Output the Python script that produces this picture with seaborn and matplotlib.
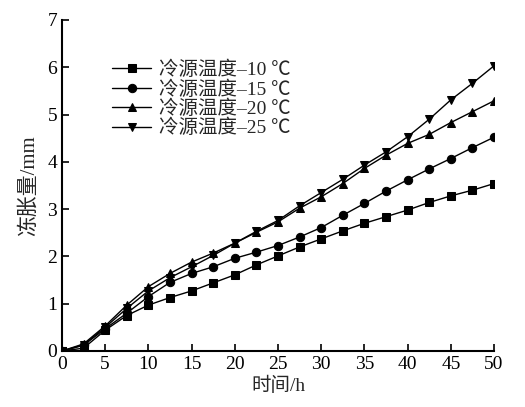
import numpy as np
import pandas as pd
import seaborn as sns
import matplotlib
matplotlib.use('Agg')
import matplotlib.pyplot as plt

# Datos (冻胀量 vs 时间)
horas = [0, 2.5, 5, 7.5, 10, 12.5, 15, 17.5, 20, 22.5, 25, 27.5, 30, 32.5, 35,
         37.5, 40, 42.5, 45, 47.5, 50]
menos10 = [0, 0.06, 0.44, 0.75, 0.97, 1.13, 1.27, 1.44, 1.61, 1.82, 2.01, 2.2,
           2.37, 2.54, 2.7, 2.84, 2.98, 3.14, 3.28, 3.4, 3.54]
menos15 = [0, 0.12, 0.47, 0.8, 1.15, 1.45, 1.64, 1.78, 1.96, 2.09, 2.23, 2.41,
           2.61, 2.87, 3.12, 3.38, 3.62, 3.85, 4.07, 4.3, 4.52]
menos20 = [0, 0.15, 0.53, 0.97, 1.36, 1.64, 1.88, 2.07, 2.28, 2.51, 2.73, 3.02,
           3.26, 3.54, 3.86, 4.14, 4.39, 4.58, 4.83, 5.06, 5.29]
menos25 = [0, 0.13, 0.5, 0.9, 1.27, 1.55, 1.78, 2.02, 2.28, 2.53, 2.76, 3.07,
           3.35, 3.63, 3.93, 4.21, 4.53, 4.9, 5.31, 5.66, 6.03]
etiquetas = ['冷源温度–10 ℃', '冷源温度–15 ℃', '冷源温度–20 ℃', '冷源温度–25 ℃']

sns.set_style('ticks')
plt.rcParams['font.family'] = ['Liberation Serif', 'Noto Sans CJK SC', 'DejaVu Sans']
plt.rcParams['axes.unicode_minus'] = False

# Armo el dataframe largo
frames = []
for etiqueta, valores in zip(etiquetas, [menos10, menos15, menos20, menos25]):
    frames.append(pd.DataFrame({'时间': horas, '冻胀量': valores, 'serie': etiqueta}))
datos = pd.concat(frames)

fig = plt.figure(figsize=(5.25, 4.07), dpi=100)
ax = fig.add_axes([0.118, 0.1376, 0.823, 0.8134])

sns.lineplot(data=datos, x='时间', y='冻胀量', style='serie', markers=['s', 'o', '^', 'v'],
             dashes=False, color='black', markersize=6, linewidth=1, markeredgecolor='black',
             ax=ax)

ax.set_xlim(0, 50)
ax.set_ylim(0, 7)
ax.set_xticks(range(0, 51, 5))
ax.set_yticks(range(0, 8))
ax.tick_params(direction='in', length=5, width=1.2, labelsize=14, colors='black')
for lado in ['top', 'right']:
    ax.spines[lado].set_visible(False)
for lado in ['left', 'bottom']:
    ax.spines[lado].set_linewidth(1.5)
    ax.spines[lado].set_color('black')

ax.set_xlabel('时间/h', fontsize=14, labelpad=3)
ax.set_ylabel('冻胀量/mm', fontsize=15, labelpad=6)

ax.legend(loc='upper left', bbox_to_anchor=(0.098, 0.9), frameon=False, fontsize=14,
          handlelength=2.0, handletextpad=0.4, labelspacing=0.05, borderaxespad=0)

fig.savefig('out.png', dpi=100)
